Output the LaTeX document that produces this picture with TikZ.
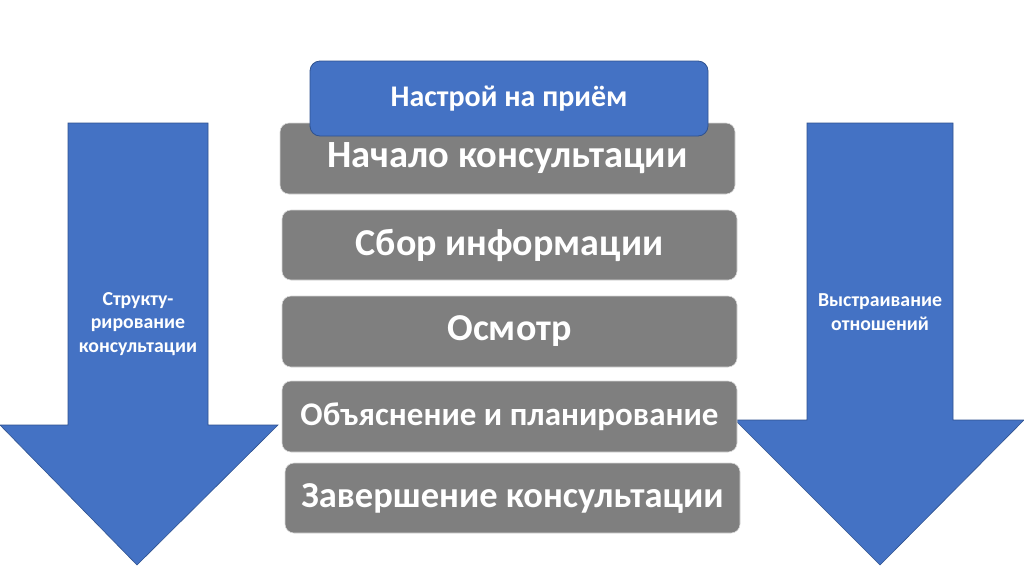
\documentclass[tikz,border=0pt]{standalone}
\usepackage{fontspec}
\setmainfont{Carlito}
\definecolor{blueA}{HTML}{4472C4}
\definecolor{blueB}{HTML}{2F528F}
\definecolor{grayA}{HTML}{7F7F7F}
\begin{document}
\begin{tikzpicture}[x=1pt,y=-1pt,
  graybox/.style={draw=white!85!black,line width=0.6pt,fill=grayA,rounded corners=9pt,text=white,font=\bfseries,inner sep=0pt},
  bluebox/.style={draw=blueB,line width=0.8pt,fill=blueA,rounded corners=10pt,text=white,font=\bfseries,inner sep=0pt},
  bigarrow/.style={fill=blueA,draw=blueB,line width=0.6pt},
  sidetext/.style={text=white,font=\bfseries\fontsize{19.8}{23.5}\selectfont,align=center}]
\useasboundingbox[fill=white] (0,0) rectangle (1024,574);
% left arrow
\path[bigarrow] (68,123) -- (208,123) -- (208,425) -- (278,425) -- (137,565) -- (0,425) -- (68,425) -- cycle;
\node[sidetext] (lt) at (138,324) {Структу-\\рирование\\консультации};
% right arrow
\path[bigarrow] (807,123) -- (953,123) -- (953,420) -- (1024,420) -- (880,565) -- (735,420) -- (807,420) -- cycle;
\node[sidetext] (rt) at (880,312) {Выстраивание\\отношений};
% gray boxes
\node[graybox,minimum width=455pt,minimum height=71pt,font=\bfseries\fontsize{38.5}{40}\selectfont] (b1) at (507.5,158.5) {Начало консультации};
\node[graybox,minimum width=455pt,minimum height=70pt,font=\bfseries\fontsize{38}{40}\selectfont] (b2) at (509.5,245) {Сбор информации};
\node[graybox,minimum width=455pt,minimum height=71pt,font=\bfseries\fontsize{38}{40}\selectfont] (b3) at (509.5,331.5) {Осмотр};
\node[graybox,minimum width=455pt,minimum height=71pt,font=\bfseries\fontsize{33}{36}\selectfont] (b4) at (509.5,416.5) {Объяснение и планирование};
\node[graybox,minimum width=455pt,minimum height=70pt,font=\bfseries\fontsize{36.5}{38}\selectfont] (b5) at (512.5,498) {Завершение консультации};
% blue box
\node[bluebox,minimum width=398pt,minimum height=75pt,font=\bfseries\fontsize{30}{32}\selectfont] (top) at (509,98.5) {Настрой на приём};
\end{tikzpicture}
\end{document}
